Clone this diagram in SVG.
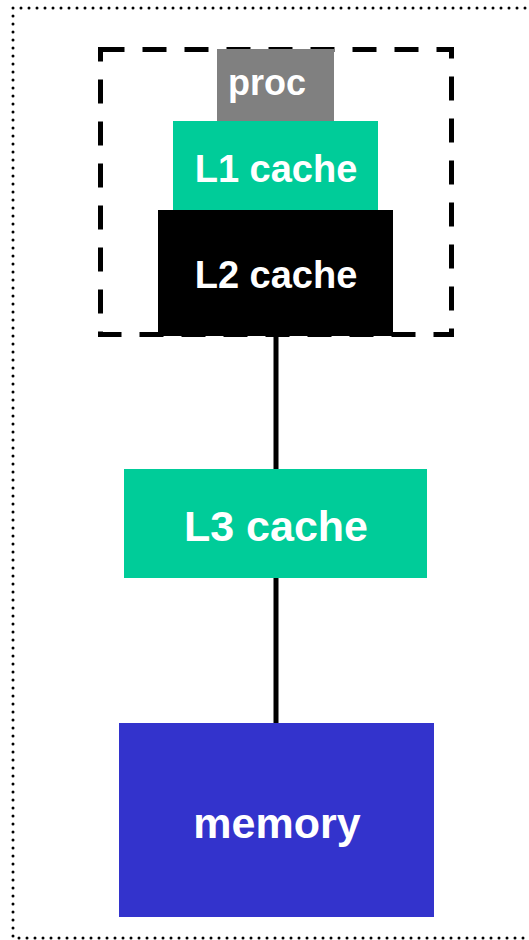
<svg xmlns="http://www.w3.org/2000/svg" width="529" height="940" viewBox="0 0 529 940">
<style>
.lbl{font-family:"Liberation Sans",Arial,sans-serif;font-weight:bold;fill:#fff;text-anchor:middle}
.conn{stroke:#000;stroke-width:5;fill:none}
</style>
<rect x="0" y="0" width="529" height="940" fill="#fff"/>
<rect id="outer" x="13" y="8" width="530" height="930" fill="none" stroke="#000" stroke-width="3" stroke-linecap="round" stroke-dasharray="0 8"/>
<g id="connectors">
<line class="conn" x1="276" y1="336" x2="276" y2="469"/>
<line class="conn" x1="276" y1="578" x2="276" y2="723"/>
</g>
<rect id="chip" x="100.5" y="49.5" width="351" height="285" fill="none" stroke="#000" stroke-width="5" stroke-dasharray="24 18"/>
<g id="proc">
<rect x="217" y="49" width="117" height="72" fill="#808080"/>
<text class="lbl" x="267" y="95" font-size="36">proc</text>
</g>
<g id="l1">
<rect x="173" y="121" width="205" height="89" fill="#00CC99"/>
<text class="lbl" x="276" y="182" font-size="38">L1 cache</text>
</g>
<g id="l2">
<rect x="158" y="210" width="235" height="126" fill="#000"/>
<text class="lbl" x="276" y="288" font-size="38">L2 cache</text>
</g>
<g id="l3">
<rect x="124" y="469" width="303" height="109" fill="#00CC99"/>
<text class="lbl" x="276" y="541" font-size="43">L3 cache</text>
</g>
<g id="memory">
<rect x="119" y="723" width="315" height="194" fill="#3333CC"/>
<text class="lbl" x="277" y="838" font-size="43">memory</text>
</g>
</svg>
